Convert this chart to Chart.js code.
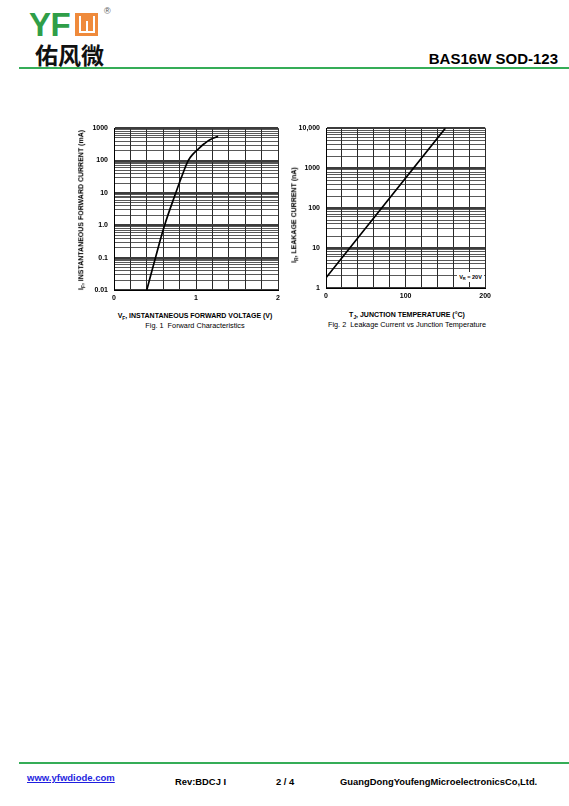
<!DOCTYPE html>
<html>
<head>
<meta charset="utf-8">
<script src="https://cdn.jsdelivr.net/npm/chart.js@4.4.1/dist/chart.umd.min.js"></script>
<style>
  html, body { margin: 0; padding: 0; background: #fff; }
  #page { position: relative; width: 569px; height: 806px; overflow: hidden; font-family: 'Liberation Sans', Arial, sans-serif; color: #000; }
  .abs { position: absolute; white-space: nowrap; }
  .lbl { font-weight: bold; font-size: 7px; line-height: 7px; }
  .cap { font-size: 7.3px; line-height: 7.3px; }
  .sub { font-size: 4.8px; vertical-align: -1.5px; }
  .vt { transform: translate(-50%, -50%) rotate(-90deg); }
  .ctr { transform: translateX(-50%); }
  .wbar { position: absolute; background: #fff; }
  .rule { position: absolute; left: 19px; width: 550px; height: 1.5px; background: #35ad57; }
  canvas { position: absolute; }
</style>
</head>
<body>
<div id="page">
  <!-- header -->
  <div class="abs" style="left:29px;top:13px;height:24px;font:bold 33px/24px 'Liberation Sans',Arial;color:#2f9e48;letter-spacing:-0.5px">YF</div>
  <div class="abs" style="left:75px;top:13px;width:23px;height:23px;background:#ef8a3b">
    <div class="wbar" style="left:3.5px;top:3px;width:2.5px;height:17px"></div>
    <div class="wbar" style="left:17.5px;top:3px;width:2.5px;height:17px"></div>
    <div class="wbar" style="left:3.5px;top:17.5px;width:16.5px;height:2.5px"></div>
    <div class="wbar" style="left:10.5px;top:8px;width:2.5px;height:12px"></div>
  </div>
  <div class="abs" style="left:104px;top:7px;font:9px/9px 'Liberation Sans',Arial;color:#555">®</div>
  <div class="abs" style="left:35px;top:44px;font:bold 23px/21px 'Noto Sans CJK SC';color:#111">佑风微</div>
  <div class="abs" style="right:11px;top:51px;font:bold 15px/15px 'Liberation Sans',Arial">BAS16W SOD-123</div>
  <div class="rule" style="top:67px"></div>

  <!-- chart 1 -->
  <canvas id="fwdChart" width="205" height="188" style="left:80px;top:118px"></canvas>
  <div class="abs lbl vt" style="left:82px;top:210px">I<span class="sub">F</span>, INSTANTANEOUS FORWARD CURRENT (mA)</div>
  <div class="abs lbl ctr" style="left:195px;top:311.5px">V<span class="sub">F</span>, INSTANTANEOUS FORWARD VOLTAGE (V)</div>
  <div class="abs cap ctr" style="left:195px;top:322px">Fig. 1&nbsp; Forward Characteristics</div>

  <!-- chart 2 -->
  <canvas id="leakChart" width="199" height="186" style="left:296px;top:118px"></canvas>
  <div class="abs lbl vt" style="left:295px;top:215px">I<span class="sub">R</span>, LEAKAGE CURRENT (nA)</div>
  <div class="abs lbl ctr" style="left:407px;top:310.5px">T<span class="sub">J</span>, JUNCTION TEMPERATURE (°C)</div>
  <div class="abs cap ctr" style="left:407px;top:320.5px">Fig. 2&nbsp; Leakage Current vs Junction Temperature</div>
  <div class="abs" style="left:457px;top:272px;width:27px;height:10px;background:#fff;font:bold 5.5px/10px 'Liberation Sans',Arial;text-align:center">V<span style="font-size:4px;vertical-align:-1px">R</span> = 20V</div>

  <!-- footer -->
  <div class="rule" style="top:762px"></div>
  <div class="abs" style="left:27px;top:773px;font:bold 9.5px/9.5px 'Liberation Sans',Arial;color:#1f1fe0;text-decoration:underline">www.yfwdiode.com</div>
  <div class="abs" style="left:175px;top:777px;font:bold 9.4px/9.4px 'Liberation Sans',Arial">Rev:BDCJ I</div>
  <div class="abs" style="left:276px;top:777px;font:bold 9.4px/9.4px 'Liberation Sans',Arial">2 / 4</div>
  <div class="abs" style="left:340px;top:777px;font:bold 9.4px/9.4px 'Liberation Sans',Arial">GuangDongYoufengMicroelectronicsCo,Ltd.</div>
</div>

<script>
'use strict';

// Fig. 1 - forward characteristics
const fwdVoltage = [0.40, 0.506, 0.617, 0.753, 0.84, 0.905, 0.96, 1.03, 1.10, 1.17, 1.27];
const fwdCurrent = [0.01, 0.1, 1, 10, 40, 100, 155, 230, 330, 440, 560];
const fwdXTicks = [0, 0.2, 0.4, 0.6, 0.8, 1.0, 1.2, 1.4, 1.6, 1.8, 2.0];
const fwdXLabels = ['0', '', '', '', '', '1', '', '', '', '', '2'];
const fwdDecades = [0.01, 0.1, 1, 10, 100, 1000];
const fwdDecadeLabels = ['0.01', '0.1', '1.0', '10', '100', '1000'];

// Fig. 2 - leakage current vs junction temperature
const leakTemp = [0, 150];
const leakCurrent = [1.8, 10000];
const leakXTicks = [0, 20, 40, 60, 80, 100, 120, 140, 160, 180, 200];
const leakXLabels = ['0', '', '', '', '', '100', '', '', '', '', '200'];
const leakDecades = [1, 10, 100, 1000, 10000];
const leakDecadeLabels = ['1', '10', '100', '1000', '10,000'];

const minorSteps = [1, 2, 3, 4, 5, 6, 7, 8, 9];
const tickFont = { family: "'Liberation Sans', Arial", size: 7, weight: 'bold' };

function logTicks(decades) {
  const out = [];
  decades.forEach((d, i) => {
    if (i === decades.length - 1) { out.push(d); return; }
    minorSteps.forEach(m => out.push(+(d * m).toPrecision(6)));
  });
  return out;
}

function decadeIndex(decades, v) {
  return decades.findIndex(d => Math.abs(d - v) < d * 1e-6);
}

function makeChart(canvasId, xs, ys, cfg) {
  const points = xs.map((x, i) => ({ x: x, y: ys[i] }));
  const yTickValues = logTicks(cfg.decades);
  return new Chart(document.getElementById(canvasId), {
    type: 'line',
    data: {
      datasets: [{
        data: points,
        borderColor: '#000',
        borderWidth: 1.7,
        pointRadius: 0,
        tension: 0.4,
        fill: false,
      }]
    },
    options: {
      responsive: false,
      animation: false,
      layout: { padding: { top: 10, right: cfg.padRight, left: 0, bottom: 0 } },
      plugins: { legend: { display: false }, tooltip: { enabled: false } },
      scales: {
        x: {
          type: 'linear',
          min: cfg.xTicks[0],
          max: cfg.xTicks[cfg.xTicks.length - 1],
          afterBuildTicks: s => { s.ticks = cfg.xTicks.map(v => ({ value: v })); },
          afterFit: s => { s.height = 16; },
          border: { display: true, color: '#000', width: 1 },
          grid: { color: '#2a2a2a', lineWidth: 1, drawTicks: false },
          ticks: {
            autoSkip: false, maxRotation: 0, padding: 4,
            color: '#000', font: tickFont,
            callback: (v, i) => cfg.xLabels[i],
          },
        },
        y: {
          type: 'logarithmic',
          min: cfg.decades[0],
          max: cfg.decades[cfg.decades.length - 1],
          afterBuildTicks: s => { s.ticks = yTickValues.map(v => ({ value: v })); },
          afterFit: s => { s.width = cfg.yWidth; },
          border: { display: true, color: '#000', width: 1 },
          grid: {
            drawTicks: false,
            color: c => decadeIndex(cfg.decades, c.tick.value) >= 0 ? '#3c3c3c' : '#2e2e2e',
            lineWidth: c => decadeIndex(cfg.decades, c.tick.value) >= 0 ? 2 : 0.8,
          },
          ticks: {
            autoSkip: false, padding: 6,
            color: '#000', font: tickFont,
            callback: v => {
              const i = decadeIndex(cfg.decades, v);
              return i >= 0 ? cfg.decadeLabels[i] : '';
            },
          },
        },
      },
    },
  });
}

makeChart('fwdChart', fwdVoltage, fwdCurrent, {
  xTicks: fwdXTicks, xLabels: fwdXLabels,
  decades: fwdDecades, decadeLabels: fwdDecadeLabels,
  yWidth: 34, padRight: 7,
});

makeChart('leakChart', leakTemp, leakCurrent, {
  xTicks: leakXTicks, xLabels: leakXLabels,
  decades: leakDecades, decadeLabels: leakDecadeLabels,
  yWidth: 30, padRight: 8,
});
</script>
</body>
</html>
